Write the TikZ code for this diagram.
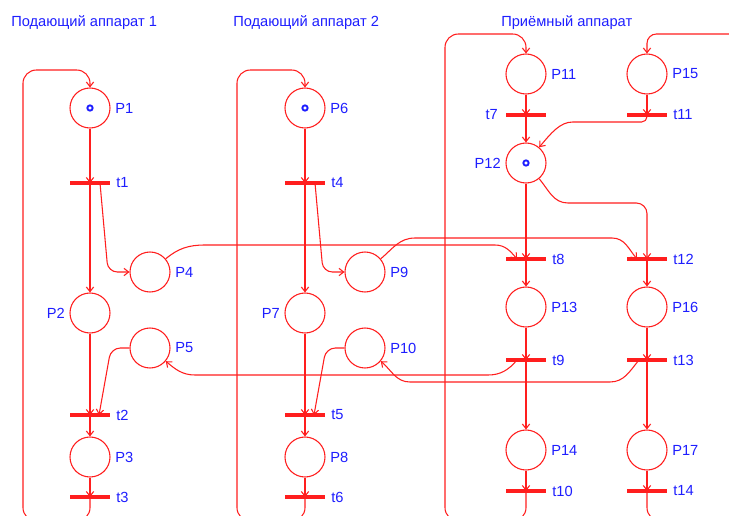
\documentclass[tikz,border=0pt]{standalone}
\usepackage{fontspec}
\setmainfont{Liberation Sans}
\usetikzlibrary{arrows.meta,calc}
\definecolor{netred}{RGB}{255,30,30}
\definecolor{netblue}{RGB}{30,30,255}
\begin{document}
\begin{tikzpicture}[x=0.75pt,y=-0.75pt,
  place/.style={circle,draw=netred,line width=0.8pt,fill=white,minimum size=30pt,inner sep=0pt},
  trans/.style={rectangle,fill=netred,minimum width=30pt,minimum height=3pt,inner sep=0pt},
  tok/.style={circle,draw=netblue,fill=white,line width=1.4pt,minimum size=4pt,inner sep=0pt},
  lbl/.style={text=netblue,font=\fontsize{11pt}{13pt}\selectfont,inner sep=0pt},
  flow/.style={draw=netred,line width=0.8pt,-{Straight Barb[length=3.5pt,width=5.5pt]}},
  wire/.style={draw=netred,line width=0.8pt}]
\useasboundingbox (0,0) rectangle (729,515);
\fill[white] (0,0) rectangle (729,515);
\clip (0,0) rectangle (729,515);

% titles
\node[lbl,anchor=base west] (h1) at (11,26) {Подающий аппарат 1};
\node[lbl,anchor=base west] (h2) at (233,26) {Подающий аппарат 2};
\node[lbl,anchor=base west] (h3) at (501,26) {Приёмный аппарат};

% places
\node[place] (P1) at (90,108) {};
\node[place] (P2) at (90,313) {};
\node[place] (P3) at (90,457) {};
\node[place] (P4) at (150,272) {};
\node[place] (P5) at (150,348) {};
\node[place] (P6) at (305,108) {};
\node[place] (P7) at (305,313) {};
\node[place] (P8) at (305,457) {};
\node[place] (P9) at (365,272) {};
\node[place] (P10) at (365,348) {};
\node[place] (P11) at (526,74) {};
\node[place] (P12) at (526,163) {};
\node[place] (P13) at (526,307) {};
\node[place] (P14) at (526,450) {};
\node[place] (P15) at (647,74) {};
\node[place] (P16) at (647,307) {};
\node[place] (P17) at (647,450) {};

% transitions
\node[trans] (t1) at (90,183) {};
\node[trans] (t2) at (90,415) {};
\node[trans] (t3) at (90,497) {};
\node[trans] (t4) at (305,183) {};
\node[trans] (t5) at (305,415) {};
\node[trans] (t6) at (305,497) {};
\node[trans] (t7) at (526,115) {};
\node[trans] (t8) at (526,259) {};
\node[trans] (t9) at (526,360) {};
\node[trans] (t10) at (526,491) {};
\node[trans] (t11) at (647,115) {};
\node[trans] (t12) at (647,259) {};
\node[trans] (t13) at (647,360) {};
\node[trans] (t14) at (647,491) {};

% labels
\node[lbl,anchor=west] (lP1) at (115,108) {P1};
\node[lbl,anchor=east] (lP2) at (65,313) {P2};
\node[lbl,anchor=west] (lP3) at (115,457) {P3};
\node[lbl,anchor=west] (lP4) at (175,272) {P4};
\node[lbl,anchor=west] (lP5) at (175,348) {P5};
\node[lbl,anchor=west] (lP6) at (330,108) {P6};
\node[lbl,anchor=east] (lP7) at (280,313) {P7};
\node[lbl,anchor=west] (lP8) at (330,457) {P8};
\node[lbl,anchor=west] (lP9) at (390,272) {P9};
\node[lbl,anchor=west] (lP10) at (390,348) {P10};
\node[lbl,anchor=west] (lP11) at (551,74) {P11};
\node[lbl,anchor=east] (lP12) at (501,163) {P12};
\node[lbl,anchor=west] (lP13) at (551,307) {P13};
\node[lbl,anchor=west] (lP14) at (551,450) {P14};
\node[lbl,anchor=west] (lP15) at (672,74) {P15};
\node[lbl,anchor=west] (lP16) at (672,307) {P16};
\node[lbl,anchor=west] (lP17) at (672,450) {P17};
\node[lbl,anchor=west] (lt1) at (116,183) {t1};
\node[lbl,anchor=west] (lt2) at (116,415) {t2};
\node[lbl,anchor=west] (lt3) at (116,497) {t3};
\node[lbl,anchor=west] (lt4) at (331,183) {t4};
\node[lbl,anchor=west] (lt5) at (331,415) {t5};
\node[lbl,anchor=west] (lt6) at (331,497) {t6};
\node[lbl,anchor=east] (lt7) at (498,115) {t7};
\node[lbl,anchor=west] (lt8) at (552,259) {t8};
\node[lbl,anchor=west] (lt9) at (552,360) {t9};
\node[lbl,anchor=west] (lt10) at (552,491) {t10};
\node[lbl,anchor=west] (lt11) at (673,115) {t11};
\node[lbl,anchor=west] (lt12) at (673,259) {t12};
\node[lbl,anchor=west] (lt13) at (673,360) {t13};
\node[lbl,anchor=west] (lt14) at (673,491) {t14};

% column 1
\draw[flow] (P1) -- (t1.center);
\draw[flow] (t1.center) -- (P2);
\draw[flow] (P2) -- (t2.center);
\draw[flow] (t2.center) -- (P3);
\draw[flow] (P3) -- (t3.center);
\draw[flow,rounded corners=10pt] (t3.center) -- (90,521) -- (23,521) -- (23,70) -- (90,70) -- (P1);
\draw[flow,rounded corners=7pt] ($(t1.center)+(10,0)$) -- (108,272) -- (P4.west);
\draw[flow,rounded corners=7pt] (P5.west) -- (111,348) -- ($(t2.center)+(9,0)$);

% column 2
\draw[flow] (P6) -- (t4.center);
\draw[flow] (t4.center) -- (P7);
\draw[flow] (P7) -- (t5.center);
\draw[flow] (t5.center) -- (P8);
\draw[flow] (P8) -- (t6.center);
\draw[flow,rounded corners=10pt] (t6.center) -- (305,521) -- (237,521) -- (237,70) -- (305,70) -- (P6);
\draw[flow,rounded corners=7pt] ($(t4.center)+(10,0)$) -- (323,272) -- (P9.west);
\draw[flow,rounded corners=7pt] (P10.west) -- (326,348) -- ($(t5.center)+(9,0)$);

% column 3
\draw[flow] (P11) -- (t7.center);
\draw[flow] (t7.center) -- (P12);
\draw[flow] (P12) -- (t8.center);
\draw[flow] (t8.center) -- (P13);
\draw[flow] (P13) -- (t9.center);
\draw[flow] (t9.center) -- (P14);
\draw[flow] (P14) -- (t10.center);
\draw[flow,rounded corners=10pt] (t10.center) -- (526,521) -- (445,521) -- (445,34) -- (526,34) -- (P11);

% column 4
\coordinate (offTop) at (745,34);
\coordinate (offBot) at (745,521);
\draw[flow] (P15) -- (t11.center);
\draw[flow] (t12.center) -- (P16);
\draw[flow] (P16) -- (t13.center);
\draw[flow] (t13.center) -- (P17);
\draw[flow] (P17) -- (t14.center);
\draw[flow,rounded corners=7pt] (offTop) -- (647,34) -- (P15);
\draw[wire,rounded corners=10pt] (t14.center) -- (647,521) -- (offBot);

% cross connections
\draw[flow] (t11.center) [rounded corners=4pt] -- (647,122) -- (578,122) [sharp corners] to[out=180,in=50] (P12.50);
\draw[flow] (P12.-50) to[out=-50,in=180] (568,203) [rounded corners=8pt] -- (647,203) -- (t12.center);
\draw[flow] (P4.40) to[out=40,in=180] (205,245) -- (495,245) to[out=0,in=130] ($(t8.center)+(-9,0)$);
\draw[flow] (P9.40) to[out=40,in=180] (415,238) -- (612,238) to[out=0,in=130] ($(t12.center)+(-10,0)$);
\draw[flow] ($(t9.center)+(-9,0)$) to[out=-130,in=0] (488,375) -- (195,375) to[out=180,in=-40] (P5.-40);
\draw[flow] ($(t13.center)+(-8,0)$) to[out=-130,in=0] (610,382) -- (410,382) to[out=180,in=-40] (P10.-40);

% tokens
\node[tok] (k1) at (P1) {};
\node[tok] (k6) at (P6) {};
\node[tok] (k12) at (P12) {};
\end{tikzpicture}
\end{document}
